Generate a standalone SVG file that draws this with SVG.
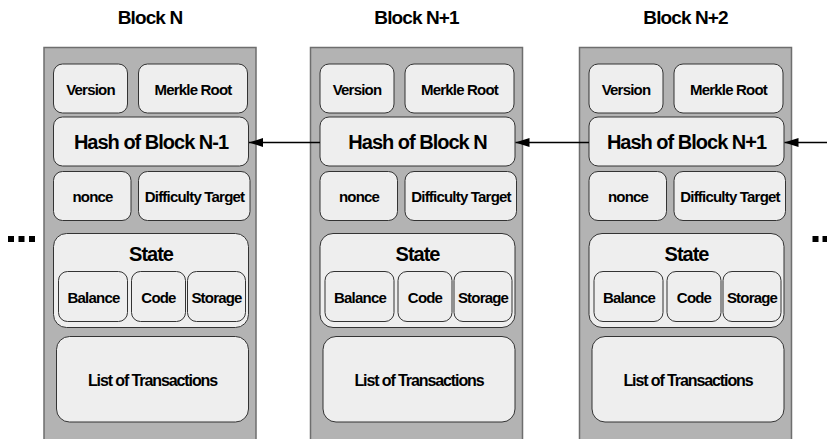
<svg xmlns="http://www.w3.org/2000/svg" width="827" height="439" viewBox="0 0 827 439">
<style>
text{font-family:"Liberation Sans",Arial,sans-serif;font-weight:bold;fill:#000;text-anchor:middle}
.outer{fill:#b3b3b3;stroke:#6e6e6e;stroke-width:1.5}
.box{fill:#eeeeee;stroke:#333;stroke-width:1}
.t15{font-size:15px;letter-spacing:-0.8px}
.t20{font-size:20px;letter-spacing:-1px}
.t16{font-size:16px;letter-spacing:-1.1px}
.title{font-size:19px;letter-spacing:-0.9px}
.conn{stroke:#000;stroke-width:1.5;fill:none}
.dot{fill:#000}
</style>
<defs>
<marker id="ah" markerWidth="14" markerHeight="10" refX="14" refY="5" orient="auto" markerUnits="userSpaceOnUse">
<path d="M0,0.5 L14,5 L0,9.5 Z" fill="#000"/>
</marker>
</defs>

<g id="blockN" transform="translate(0,0)">
<text class="title" x="150" y="24">Block N</text>
<rect class="outer" x="44" y="47.5" width="212" height="400"/>
<rect class="box" x="53.5" y="64" width="74" height="49" rx="9"/>
<text class="t15" x="90.5" y="95">Version</text>
<rect class="box" x="138.5" y="64" width="109" height="49" rx="9"/>
<text class="t15" x="193" y="95">Merkle Root</text>
<rect class="box" x="53.5" y="117" width="195" height="49" rx="9"/>
<text class="t20" x="151" y="149">Hash of Block N-1</text>
<rect class="box" x="53.5" y="171.5" width="77.5" height="49" rx="9"/>
<text class="t15" x="92.5" y="202">nonce</text>
<rect class="box" x="138.5" y="171.5" width="111.5" height="49" rx="9"/>
<text class="t15" x="194.5" y="202">Difficulty Target</text>
<rect class="box" x="53.5" y="233.5" width="195" height="94" rx="13"/>
<text class="t20" x="151" y="260.5">State</text>
<rect class="box" x="58.5" y="271.5" width="69" height="50" rx="9"/>
<text class="t15" x="93.5" y="302.5">Balance</text>
<rect class="box" x="131.5" y="271.5" width="54" height="50" rx="9"/>
<text class="t15" x="158.5" y="302.5">Code</text>
<rect class="box" x="187.5" y="271.5" width="58" height="50" rx="9"/>
<text class="t15" x="216.5" y="302.5">Storage</text>
<rect class="box" x="56.5" y="336.5" width="192" height="85.5" rx="13"/>
<text class="t16" x="152.5" y="385.5">List of Transactions</text>
</g>

<g id="blockN1" transform="translate(266.5,0)">
<text class="title" x="150" y="24">Block N+1</text>
<rect class="outer" x="44" y="47.5" width="212" height="400"/>
<rect class="box" x="53.5" y="64" width="74" height="49" rx="9"/>
<text class="t15" x="90.5" y="95">Version</text>
<rect class="box" x="138.5" y="64" width="109" height="49" rx="9"/>
<text class="t15" x="193" y="95">Merkle Root</text>
<rect class="box" x="53.5" y="117" width="195" height="49" rx="9"/>
<text class="t20" x="151" y="149">Hash of Block N</text>
<rect class="box" x="53.5" y="171.5" width="77.5" height="49" rx="9"/>
<text class="t15" x="92.5" y="202">nonce</text>
<rect class="box" x="138.5" y="171.5" width="111.5" height="49" rx="9"/>
<text class="t15" x="194.5" y="202">Difficulty Target</text>
<rect class="box" x="53.5" y="233.5" width="195" height="94" rx="13"/>
<text class="t20" x="151" y="260.5">State</text>
<rect class="box" x="58.5" y="271.5" width="69" height="50" rx="9"/>
<text class="t15" x="93.5" y="302.5">Balance</text>
<rect class="box" x="131.5" y="271.5" width="54" height="50" rx="9"/>
<text class="t15" x="158.5" y="302.5">Code</text>
<rect class="box" x="187.5" y="271.5" width="58" height="50" rx="9"/>
<text class="t15" x="216.5" y="302.5">Storage</text>
<rect class="box" x="56.5" y="336.5" width="192" height="85.5" rx="13"/>
<text class="t16" x="152.5" y="385.5">List of Transactions</text>
</g>

<g id="blockN2" transform="translate(535.5,0)">
<text class="title" x="150" y="24">Block N+2</text>
<rect class="outer" x="44" y="47.5" width="212" height="400"/>
<rect class="box" x="53.5" y="64" width="74" height="49" rx="9"/>
<text class="t15" x="90.5" y="95">Version</text>
<rect class="box" x="138.5" y="64" width="109" height="49" rx="9"/>
<text class="t15" x="193" y="95">Merkle Root</text>
<rect class="box" x="53.5" y="117" width="195" height="49" rx="9"/>
<text class="t20" x="151" y="149">Hash of Block N+1</text>
<rect class="box" x="53.5" y="171.5" width="77.5" height="49" rx="9"/>
<text class="t15" x="92.5" y="202">nonce</text>
<rect class="box" x="138.5" y="171.5" width="111.5" height="49" rx="9"/>
<text class="t15" x="194.5" y="202">Difficulty Target</text>
<rect class="box" x="53.5" y="233.5" width="195" height="94" rx="13"/>
<text class="t20" x="151" y="260.5">State</text>
<rect class="box" x="58.5" y="271.5" width="69" height="50" rx="9"/>
<text class="t15" x="93.5" y="302.5">Balance</text>
<rect class="box" x="131.5" y="271.5" width="54" height="50" rx="9"/>
<text class="t15" x="158.5" y="302.5">Code</text>
<rect class="box" x="187.5" y="271.5" width="58" height="50" rx="9"/>
<text class="t15" x="216.5" y="302.5">Storage</text>
<rect class="box" x="56.5" y="336.5" width="192" height="85.5" rx="13"/>
<text class="t16" x="152.5" y="385.5">List of Transactions</text>
</g>

<g id="dotsLeft">
<rect class="dot" x="8" y="236" width="6" height="6"/>
<rect class="dot" x="18.5" y="236" width="6" height="6"/>
<rect class="dot" x="29" y="236" width="6" height="6"/>
</g>
<g id="dotsRight">
<rect class="dot" x="812.5" y="236" width="6" height="6"/>
<rect class="dot" x="822.5" y="236" width="6" height="6"/>
</g>

<g id="connectors">
<line class="conn" x1="320" y1="142.5" x2="249" y2="142.5" marker-end="url(#ah)"/>
<line class="conn" x1="589" y1="142.5" x2="515.5" y2="142.5" marker-end="url(#ah)"/>
<line class="conn" x1="830" y1="142.5" x2="784.5" y2="142.5" marker-end="url(#ah)"/>
</g>
</svg>
